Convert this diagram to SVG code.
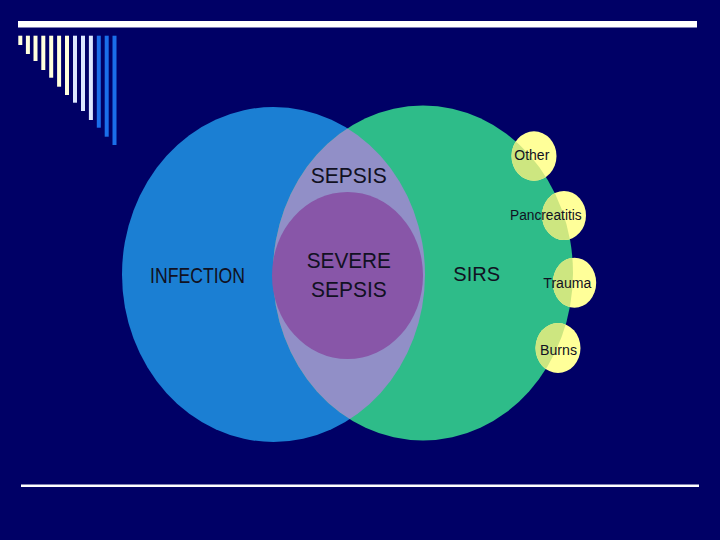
<svg xmlns="http://www.w3.org/2000/svg" width="720" height="540" viewBox="0 0 720 540">
  <style>
    .lbl { font-family: "Liberation Sans", Arial, sans-serif; fill: #111122; }
    .cream { fill: #FFFFDD; }
    .lblue { fill: #DCE6FF; }
    .dblue { fill: #1A6EEA; }
    .yel { fill: #FFFF99; }
    .yelg { fill: #CDE680; }
  </style>
  <defs>
    <clipPath id="greenClip">
      <ellipse cx="423" cy="273" rx="150" ry="167.5"/>
    </clipPath>
  </defs>
  <rect x="0" y="0" width="720" height="540" fill="#000066"/>
  <g id="decor">
    <rect x="18" y="21" width="679" height="6.5" fill="#FFFFFF"/>
    <rect x="21" y="484.5" width="678" height="2.5" fill="#FFFFFF"/>
    <rect class="cream" x="18.3" y="35.7" width="4" height="9.3"/>
    <rect class="cream" x="25.9" y="35.7" width="4" height="18.3"/>
    <rect class="cream" x="33.5" y="35.7" width="4" height="25.3"/>
    <rect class="cream" x="41.3" y="35.7" width="4" height="34.3"/>
    <rect class="cream" x="49.2" y="35.7" width="4" height="42"/>
    <rect class="cream" x="57.1" y="35.7" width="4" height="51"/>
    <rect class="cream" x="65" y="35.7" width="4" height="59.3"/>
    <rect class="lblue" x="73" y="35.7" width="4" height="67"/>
    <rect class="lblue" x="81" y="35.7" width="4" height="75.3"/>
    <rect class="lblue" x="88.9" y="35.7" width="4" height="84.3"/>
    <rect class="dblue" x="96.8" y="35.7" width="4" height="92"/>
    <rect class="dblue" x="104.7" y="35.7" width="4" height="101"/>
    <rect class="dblue" x="112.5" y="35.7" width="4" height="109.3"/>
  </g>
  <g id="infection">
    <ellipse cx="273.5" cy="274.5" rx="151.5" ry="167.5" fill="#1B7FD3"/>
  </g>
  <g id="sirs">
    <ellipse cx="423" cy="273" rx="150" ry="167.5" fill="#2EBC89"/>
  </g>
  <g id="sepsis">
    <ellipse cx="273.5" cy="274.5" rx="151.5" ry="167.5" fill="#918FC7" clip-path="url(#greenClip)"/>
  </g>
  <g id="severe-sepsis">
    <ellipse cx="347.5" cy="275.5" rx="75.5" ry="83.5" fill="#8856A8"/>
  </g>
  <g id="other">
    <ellipse class="yel" cx="534" cy="156" rx="22.5" ry="24.7"/>
    <ellipse class="yelg" cx="534" cy="156" rx="22.5" ry="24.7" clip-path="url(#greenClip)"/>
  </g>
  <g id="pancreatitis">
    <ellipse class="yel" cx="564" cy="215.5" rx="22" ry="24.5"/>
    <ellipse class="yelg" cx="564" cy="215.5" rx="22" ry="24.5" clip-path="url(#greenClip)"/>
  </g>
  <g id="trauma">
    <ellipse class="yel" cx="574.5" cy="282.7" rx="21.7" ry="25"/>
    <ellipse class="yelg" cx="574.5" cy="282.7" rx="21.7" ry="25" clip-path="url(#greenClip)"/>
  </g>
  <g id="burns">
    <ellipse class="yel" cx="558" cy="348" rx="22.5" ry="25"/>
    <ellipse class="yelg" cx="558" cy="348" rx="22.5" ry="25" clip-path="url(#greenClip)"/>
  </g>
  <g id="labels">
    <text class="lbl" x="150" y="283.3" font-size="22" textLength="95" lengthAdjust="spacingAndGlyphs">INFECTION</text>
    <text class="lbl" x="310.7" y="182.7" font-size="21.5" textLength="76" lengthAdjust="spacingAndGlyphs">SEPSIS</text>
    <text class="lbl" x="306.7" y="268.4" font-size="22" textLength="84.3" lengthAdjust="spacingAndGlyphs">SEVERE</text>
    <text class="lbl" x="311" y="296.7" font-size="22" textLength="75.7" lengthAdjust="spacingAndGlyphs">SEPSIS</text>
    <text class="lbl" x="453.3" y="281" font-size="21" textLength="46.7" lengthAdjust="spacingAndGlyphs">SIRS</text>
    <text class="lbl" x="514.3" y="160.3" font-size="14.5" textLength="35" lengthAdjust="spacingAndGlyphs">Other</text>
    <text class="lbl" x="510" y="220.3" font-size="14" textLength="71.7" lengthAdjust="spacingAndGlyphs">Pancreatitis</text>
    <text class="lbl" x="543.3" y="288.3" font-size="14" textLength="48" lengthAdjust="spacingAndGlyphs">Trauma</text>
    <text class="lbl" x="540" y="355" font-size="14" textLength="37" lengthAdjust="spacingAndGlyphs">Burns</text>
  </g>
</svg>
